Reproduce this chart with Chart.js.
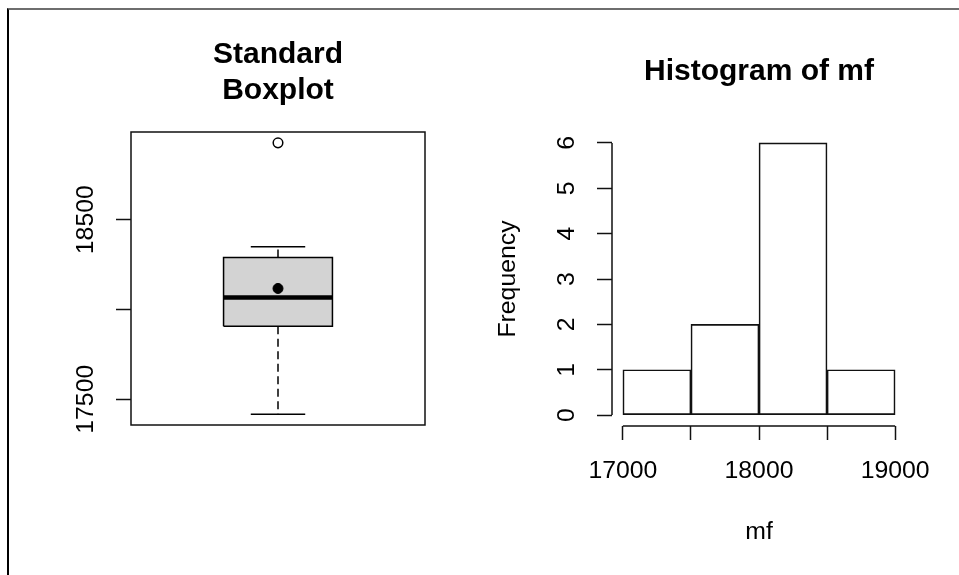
<!DOCTYPE html>
<html>
<head>
<meta charset="utf-8">
<script src="https://cdn.jsdelivr.net/npm/chart.js@4.4.1/dist/chart.umd.min.js"></script>
<style>
  html, body { margin: 0; padding: 0; background: #fff; }
  #wrap { position: relative; width: 959px; height: 575px; overflow: hidden; }
  #frame { position: absolute; left: 7px; top: 8px; right: -4px; bottom: -4px;
           border-left: 2px solid #000; border-top: 2px solid #6e6e6e; }
  #boxChart { position: absolute; left: 0; top: 0; }
  #histChart { position: absolute; left: 480px; top: 0; }
</style>
</head>
<body>
<div id="wrap">
  <div id="frame"></div>
  <canvas id="boxChart" width="480" height="575"></canvas>
  <canvas id="histChart" width="479" height="575"></canvas>
</div>
<script>
// boxplot of mf: lower whisker, Q1, median, Q3, upper whisker
const boxStats = [17417, 17906, 18067, 18289, 18350];
const boxOutliers = [18928];
const boxMean = [18117];
const boxYTicks = [17500, 18000, 18500];
const boxYLabels = ["17500", "", "18500"];

// histogram of mf
const histBreaks = [17000, 17500, 18000, 18500, 19000];
const histCounts = [1, 2, 6, 1];
const histXTicks = [17000, 17500, 18000, 18500, 19000];
const histXLabels = ["17000", "", "18000", "", "19000"];
const histYTicks = [0, 1, 2, 3, 4, 5, 6];

const FONT = '"Liberation Sans", Arial, sans-serif';
const TXT = 24.8;
Chart.defaults.font.family = FONT;
Chart.defaults.color = "#000";

// R-like axes: rotated y tick labels, optional box frame, axis lines spanning the ticks only
const rAxisPlugin = {
  id: "rAxis",
  afterDraw(chart, args, opts) {
    const ctx = chart.ctx;
    const area = chart.chartArea;
    const ys = chart.scales.y;
    const xs = chart.scales.x;
    ctx.save();
    ctx.strokeStyle = "#111";
    ctx.lineWidth = 1.5;
    if (opts.frame) {
      ctx.strokeRect(area.left, area.top, area.right - area.left, area.bottom - area.top);
    }
    if (opts.axisLines) {
      const t0 = ys.ticks[0].value, t1 = ys.ticks[ys.ticks.length - 1].value;
      ctx.beginPath();
      ctx.moveTo(area.left, ys.getPixelForValue(t0));
      ctx.lineTo(area.left, ys.getPixelForValue(t1));
      const x0 = xs.ticks[0].value, x1 = xs.ticks[xs.ticks.length - 1].value;
      ctx.moveTo(xs.getPixelForValue(x0), area.bottom);
      ctx.lineTo(xs.getPixelForValue(x1), area.bottom);
      ctx.stroke();
    }
    ctx.fillStyle = "#000";
    ctx.font = TXT + "px " + FONT;
    ctx.textAlign = "center";
    ctx.textBaseline = "middle";
    ys.ticks.forEach((t, i) => {
      const label = opts.yLabels[i];
      if (!label) return;
      ctx.save();
      ctx.translate(area.left - 45, ys.getPixelForValue(t.value));
      ctx.rotate(-Math.PI / 2);
      ctx.fillText(label, 0, 0);
      ctx.restore();
    });
    ctx.restore();
  }
};

// ---------- boxplot ----------
const [lw, q1, med, q3, uw] = boxStats;
const yLo = Math.min(lw, ...boxOutliers), yHi = Math.max(uw, ...boxOutliers);
const yPad = (yHi - yLo) * 0.04;

const seg = (x0, y0, x1, y1) => [{ x: x0, y: y0 }, { x: x1, y: y1 }];
const lineDs = (data, extra) => Object.assign({
  data: data, borderColor: "#000", borderWidth: 1.5, pointRadius: 0, fill: false, tension: 0
}, extra);

new Chart(document.getElementById("boxChart"), {
  type: "line",
  data: {
    datasets: [
      { data: boxMean.map(v => ({ x: 1, y: v })), showLine: false, pointRadius: 5,
        pointBackgroundColor: "#000", pointBorderColor: "#000", pointBorderWidth: 1 },
      { data: boxOutliers.map(v => ({ x: 1, y: v })), showLine: false, pointRadius: 4.8,
        pointBackgroundColor: "#fff", pointBorderColor: "#000", pointBorderWidth: 1.5 },
      lineDs(seg(0.8, med, 1.2, med), { borderWidth: 4.5 }),
      lineDs(seg(0.9, lw, 1.1, lw)),
      lineDs(seg(0.9, uw, 1.1, uw)),
      lineDs(seg(1, q1, 1, lw), { borderDash: [8, 4.5] }),
      lineDs(seg(1, q3, 1, uw), { borderDash: [8, 4.5] }),
      lineDs([{ x: 0.8, y: q1 }, { x: 1.2, y: q1 }, { x: 1.2, y: q3 }, { x: 0.8, y: q3 }, { x: 0.8, y: q1 }],
        { fill: "shape", backgroundColor: "#d3d3d3" })
    ]
  },
  options: {
    responsive: false,
    animation: false,
    events: [],
    layout: { padding: { left: 0, right: 55, top: 0, bottom: 150 } },
    plugins: {
      legend: { display: false },
      tooltip: { enabled: false },
      title: {
        display: true,
        text: ["Standard", "Boxplot"],
        fullSize: false,
        color: "#000",
        font: { size: 30, weight: "bold", lineHeight: 1.2 },
        padding: { top: 37, bottom: 23 }
      },
      rAxis: { frame: true, yLabels: boxYLabels }
    },
    scales: {
      x: { type: "linear", min: 0.46, max: 1.54, display: false },
      y: {
        min: yLo - yPad,
        max: yHi + yPad,
        afterBuildTicks: s => { s.ticks = boxYTicks.map(v => ({ value: v })); },
        afterFit: s => { s.width = 131; },
        border: { display: false },
        grid: { drawOnChartArea: false, drawTicks: true, tickLength: 15, tickColor: "#111", tickWidth: 1.5 },
        ticks: { display: false }
      }
    }
  },
  plugins: [rAxisPlugin]
});

// ---------- histogram ----------
const histData = histCounts.map((c, i) => ({ x: (histBreaks[i] + histBreaks[i + 1]) / 2, y: c }));
const bLo = histBreaks[0], bHi = histBreaks[histBreaks.length - 1];
const xPad = (bHi - bLo) * 0.04;
const cMax = Math.max(...histCounts);

new Chart(document.getElementById("histChart"), {
  type: "bar",
  data: {
    datasets: [{
      data: histData,
      backgroundColor: "rgba(255,255,255,0)",
      borderColor: "#111",
      borderWidth: 1,
      borderSkipped: false,
      barPercentage: 1,
      categoryPercentage: 1
    }]
  },
  options: {
    responsive: false,
    animation: false,
    events: [],
    layout: { padding: { left: 0, right: 53, top: 0, bottom: 0 } },
    plugins: {
      legend: { display: false },
      tooltip: { enabled: false },
      title: {
        display: true,
        text: "Histogram of mf",
        fullSize: false,
        color: "#000",
        font: { size: 30, weight: "bold", lineHeight: 1.2 },
        padding: { top: 54, bottom: 42 }
      },
      rAxis: { axisLines: true, yLabels: histYTicks.map(String) }
    },
    scales: {
      x: {
        type: "linear",
        offset: false,
        min: bLo - xPad,
        max: bHi + xPad,
        afterBuildTicks: s => { s.ticks = histXTicks.map(v => ({ value: v })); },
        afterFit: s => { s.height = 149; },
        border: { display: false },
        grid: { offset: false, drawOnChartArea: false, drawTicks: true, tickLength: 14, tickColor: "#111", tickWidth: 1.5 },
        ticks: {
          autoSkip: false, maxRotation: 0, minRotation: 0, padding: 16,
          font: { size: TXT }, color: "#000",
          callback: (v, i) => histXLabels[i]
        },
        title: { display: true, text: "mf", color: "#000", font: { size: TXT }, padding: { top: 0, bottom: 28 } }
      },
      y: {
        min: -cMax * 0.04,
        max: cMax * 1.04,
        afterBuildTicks: s => { s.ticks = histYTicks.map(v => ({ value: v })); },
        afterFit: s => { s.width = 132; },
        border: { display: false },
        grid: { drawOnChartArea: false, drawTicks: true, tickLength: 15, tickColor: "#111", tickWidth: 1.5 },
        ticks: { display: false },
        title: { display: true, text: "Frequency", color: "#000", font: { size: TXT }, padding: { top: 13.2, bottom: 0 } }
      }
    }
  },
  plugins: [rAxisPlugin]
});
</script>
</body>
</html>
